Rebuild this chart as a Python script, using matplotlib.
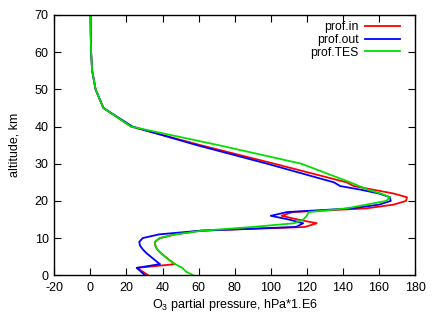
import matplotlib
matplotlib.use("Agg")
import matplotlib.pyplot as plt

alt = [0, 1, 2, 3, 4, 5, 6, 7, 8, 9, 10, 11, 12, 13, 14, 15, 16, 17, 18, 19, 20,
       21, 22, 23, 24, 25, 30, 35, 40, 45, 50, 55, 60, 65, 70]

prof_tes = [57, 53, 51, 47, 44, 41.5, 39, 37, 36, 35.8, 38.5, 47, 62, 90, 113, 118,
            120, 121, 142, 153, 164, 166, 161, 154, 149, 144, 117, 71, 22.5, 7.2,
            2.9, 1.0, 0.4, 0.2, 0.1]

prof_in = [32.1, 29, 25.7, 47, 44, 41.5, 39, 37, 36, 35.8, 38.5, 47, 61, 119, 125.5,
           115, 106, 112, 153, 168, 175, 175.5, 168, 157, 146, 142, 102, 61, 22.5,
           7.2, 2.9, 1.0, 0.4, 0.2, 0.1]

prof_out = [30.3, 28, 25.7, 38.6, 36, 33.5, 31, 29, 27.5, 27.1, 29, 38, 61, 114,
            118, 110, 100, 109, 145, 160, 166.5, 166, 160, 150, 138.5, 135, 98, 59,
            23.3, 7.2, 2.9, 1.0, 0.4, 0.2, 0.1]

xticks = [-20, 0, 20, 40, 60, 80, 100, 120, 140, 160, 180]
yticks = [0, 10, 20, 30, 40, 50, 60, 70]

plt.rcParams['font.family'] = ['Liberation Sans', 'DejaVu Sans']
plt.rcParams['mathtext.default'] = 'regular'
plt.rcParams['axes.unicode_minus'] = False

fig = plt.figure(figsize=(4.36, 3.12), dpi=100)
ax = fig.add_axes([0.1245, 0.1176, 0.952 - 0.1245, 0.952 - 0.1176])

ax.plot(prof_in, alt, color='#ff0000', lw=1.3, label='prof.in')
ax.plot(prof_out, alt, color='#0000ff', lw=1.3, label='prof.out')
ax.plot(prof_tes, alt, color='#00e000', lw=1.3, label='prof.TES')

ax.set_xlim(-20, 180)
ax.set_ylim(0, 70)
ax.set_xticks(xticks)
ax.set_yticks(yticks)
ax.tick_params(direction='in', top=True, right=True, length=5, width=0.8,
               labelsize=9, pad=4)
ax.tick_params(axis='x', pad=5)
for s in ax.spines.values():
    s.set_linewidth(1.0)

ax.set_xlabel('O$_3$ partial pressure, hPa*1.E6', fontsize=9, labelpad=2)
ax.set_ylabel('altitude, km', fontsize=9, labelpad=10)

leg = ax.legend(loc='upper right', bbox_to_anchor=(0.957, 0.975), frameon=False,
                markerfirst=False, fontsize=8.8, handlelength=2.8,
                handletextpad=0.55, labelspacing=0.05, borderpad=0,
                borderaxespad=0)
for t in leg.get_texts():
    t.set_ha('right')

fig.savefig('out.png', dpi=100)
